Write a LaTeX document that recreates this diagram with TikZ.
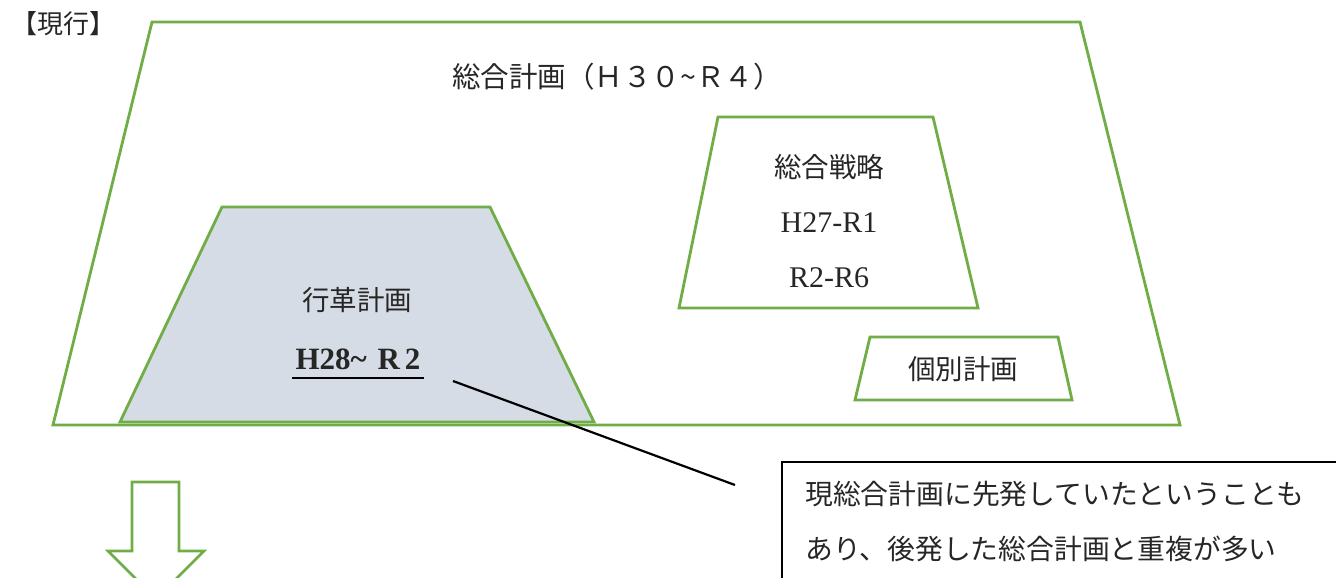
\documentclass[tikz,border=0pt]{standalone}
\usepackage{fontspec}
\setmainfont{Liberation Serif}
\newfontfamily\cjk{Noto Sans CJK JP}
\definecolor{grn}{HTML}{70AD47}
\definecolor{fillgray}{HTML}{D6DCE5}
\definecolor{txt}{HTML}{262626}
\begin{document}
\begin{tikzpicture}[x=1pt,y=-1pt,
  trap/.style={draw=grn,line width=2.8pt,line join=miter},
  jtxt/.style={font=\cjk\fontsize{27.5}{31}\selectfont,text=txt,inner sep=0pt},
  ltxt/.style={font=\fontsize{30}{34}\selectfont,text=txt,inner sep=0pt},
  conn/.style={draw=black,line width=2.2pt}]
\useasboundingbox (0,0) rectangle (1336,578);
% big trapezoid
\draw[trap,fill=white] (152,22) -- (1080,22) -- (1180,425) -- (53,425) -- cycle;
% gyokaku trapezoid
\draw[trap,fill=fillgray] (222,207) -- (490,207) -- (594,422) -- (120,422) -- cycle;
% senryaku trapezoid
\draw[trap,fill=white] (718,117) -- (933,117) -- (978,308) -- (679,308) -- cycle;
% kobetsu trapezoid
\draw[trap,fill=white] (870,337) -- (1058,337) -- (1072,400) -- (855,400) -- cycle;
% arrow
\draw[trap,fill=white] (132,482) -- (179,482) -- (179,551) -- (204,551) -- (156,599) -- (108,551) -- (132,551) -- cycle;
% texts
\node[jtxt,font=\cjk\fontsize{26}{29}\selectfont] (genko) at (64,24) {【現行】};
\node[jtxt,font=\cjk\fontsize{28.5}{32}\selectfont] (sogo) at (617,77) {総合計画（Ｈ３０\textasciitilde Ｒ４）};
\node[jtxt] (senryaku) at (829,167) {総合戦略};
\node[ltxt] (h27) at (829,223) {H27-R1};
\node[ltxt] (r2) at (829,278) {R2-R6};
\node[jtxt] (gyokaku) at (357,300) {行革計画};
\node[ltxt,font=\bfseries\fontsize{31}{35}\selectfont] (h28) at (358,359) {H28\textasciitilde\kern3pt\ R\kern5pt 2};
\draw[line width=2.2pt] (292,378) -- (424,378);
\node[jtxt] (kobetsu) at (963,369) {個別計画};
% callout
\node[draw=black,line width=2.2pt,minimum width=570pt,minimum height=125pt,anchor=north west,inner sep=0pt] (callout) at (781,461) {};
\node[jtxt,font=\cjk\fontsize{27.8}{31}\selectfont,anchor=west] (c1) at (805,494) {現総合計画に先発していたということも};
\node[jtxt,font=\cjk\fontsize{27.8}{31}\selectfont,anchor=west] (c2) at (805,549) {あり、後発した総合計画と重複が多い};
\coordinate (ls) at (453,381);
\coordinate (le) at (735,485);
\draw[conn] (ls) -- (le);
\end{tikzpicture}
\end{document}
